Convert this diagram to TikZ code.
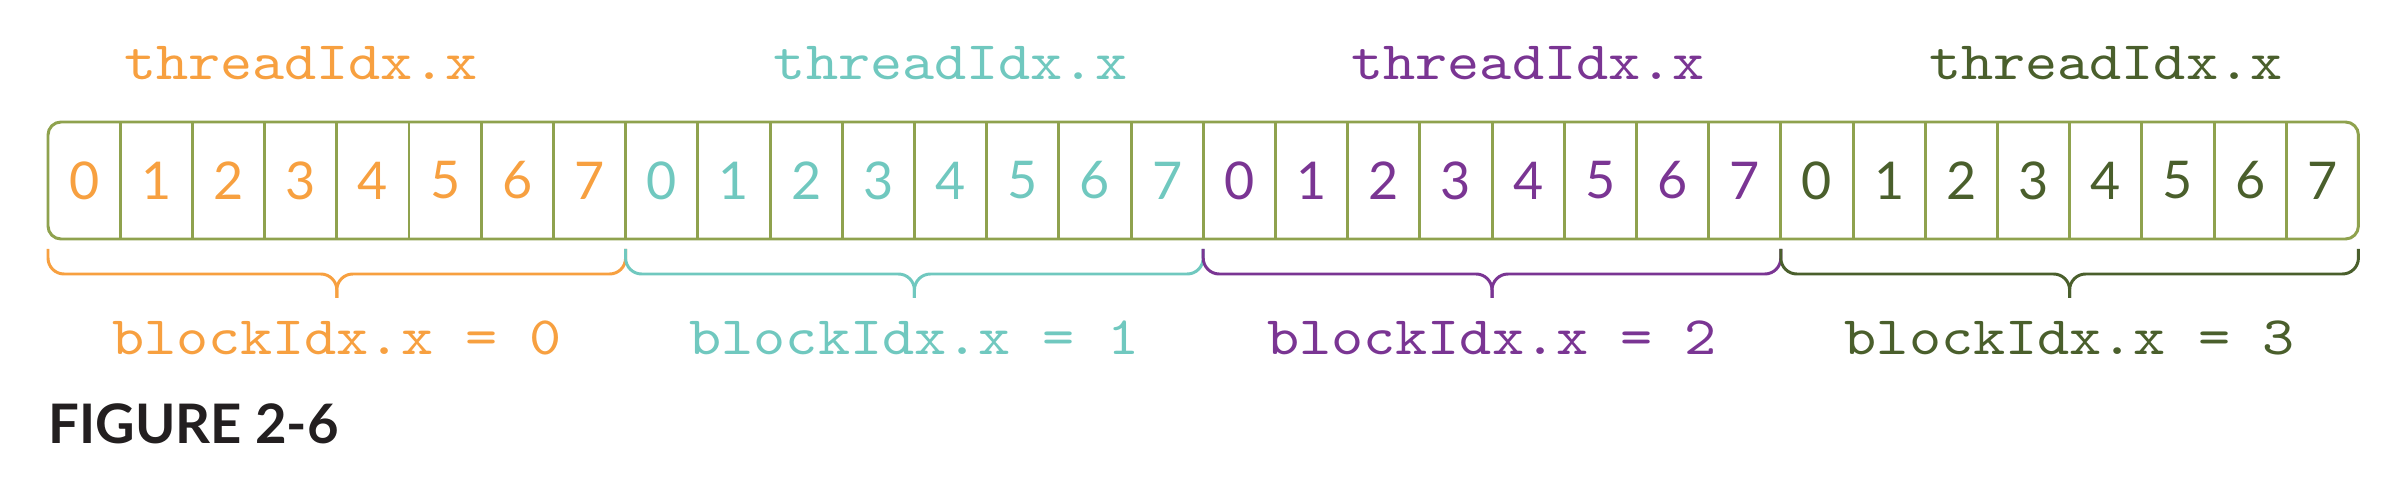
\documentclass[tikz,border=0pt]{standalone}
\usepackage{fontspec}
\newfontfamily\codefont{lmmono10-regular.otf}[FakeStretch=1.13]
\newfontfamily\digitfont{Lato}
\newfontfamily\figfont{Lato}
\definecolor{blockzero}{HTML}{F7A040}
\definecolor{blockone}{HTML}{70C8BF}
\definecolor{blocktwo}{HTML}{7A3593}
\definecolor{blockthree}{HTML}{4A5F2C}
\definecolor{framegreen}{HTML}{8FA24E}
\definecolor{figblack}{HTML}{231F20}

\begin{document}
\begin{tikzpicture}
[celldecorate/.style={minimum width=0.722cm,minimum height=1.17cm,inner sep=0pt,outer sep=0pt,%
    font=\digitfont\fontsize{14.8}{16}\selectfont},%
  frameline/.style={draw=framegreen,line width=0.85pt,rounded corners=0.13cm},
  cellline/.style={-,line width=0.85pt,color=framegreen},
  braceline/.style={-,line width=0.85pt,rounded corners=0.16cm},
  codelabel/.style={anchor=base,inner sep=0pt,font=\codefont\fontsize{15.4}{18}\selectfont}]
\useasboundingbox (0,0) rectangle (23.96,4.82);
% cells of the four blocks
% block 0
\node (c0) at (0.841,3.015) [celldecorate,color=blockzero] {0};
\node (c1) at (1.563,3.015) [celldecorate,color=blockzero] {1};
\node (c2) at (2.285,3.015) [celldecorate,color=blockzero] {2};
\node (c3) at (3.007,3.015) [celldecorate,color=blockzero] {3};
\node (c4) at (3.729,3.015) [celldecorate,color=blockzero] {4};
\node (c5) at (4.451,3.015) [celldecorate,color=blockzero] {5};
\node (c6) at (5.173,3.015) [celldecorate,color=blockzero] {6};
\node (c7) at (5.895,3.015) [celldecorate,color=blockzero] {7};
% block 1
\node (c8) at (6.617,3.015) [celldecorate,color=blockone] {0};
\node (c9) at (7.339,3.015) [celldecorate,color=blockone] {1};
\node (c10) at (8.061,3.015) [celldecorate,color=blockone] {2};
\node (c11) at (8.783,3.015) [celldecorate,color=blockone] {3};
\node (c12) at (9.505,3.015) [celldecorate,color=blockone] {4};
\node (c13) at (10.227,3.015) [celldecorate,color=blockone] {5};
\node (c14) at (10.949,3.015) [celldecorate,color=blockone] {6};
\node (c15) at (11.671,3.015) [celldecorate,color=blockone] {7};
% block 2
\node (c16) at (12.393,3.015) [celldecorate,color=blocktwo] {0};
\node (c17) at (13.115,3.015) [celldecorate,color=blocktwo] {1};
\node (c18) at (13.837,3.015) [celldecorate,color=blocktwo] {2};
\node (c19) at (14.559,3.015) [celldecorate,color=blocktwo] {3};
\node (c20) at (15.281,3.015) [celldecorate,color=blocktwo] {4};
\node (c21) at (16.003,3.015) [celldecorate,color=blocktwo] {5};
\node (c22) at (16.725,3.015) [celldecorate,color=blocktwo] {6};
\node (c23) at (17.447,3.015) [celldecorate,color=blocktwo] {7};
% block 3
\node (c24) at (18.169,3.015) [celldecorate,color=blockthree] {0};
\node (c25) at (18.891,3.015) [celldecorate,color=blockthree] {1};
\node (c26) at (19.613,3.015) [celldecorate,color=blockthree] {2};
\node (c27) at (20.335,3.015) [celldecorate,color=blockthree] {3};
\node (c28) at (21.057,3.015) [celldecorate,color=blockthree] {4};
\node (c29) at (21.779,3.015) [celldecorate,color=blockthree] {5};
\node (c30) at (22.501,3.015) [celldecorate,color=blockthree] {6};
\node (c31) at (23.223,3.015) [celldecorate,color=blockthree] {7};
% outer frame
\draw[frameline] (c0.north west) rectangle (c31.south east);
% cell walls
\path
(c0.north east) edge[cellline] (c0.south east)
(c1.north east) edge[cellline] (c1.south east)
(c2.north east) edge[cellline] (c2.south east)
(c3.north east) edge[cellline] (c3.south east)
(c4.north east) edge[cellline] (c4.south east)
(c5.north east) edge[cellline] (c5.south east)
(c6.north east) edge[cellline] (c6.south east)
(c7.north east) edge[cellline] (c7.south east)
(c8.north east) edge[cellline] (c8.south east)
(c9.north east) edge[cellline] (c9.south east)
(c10.north east) edge[cellline] (c10.south east)
(c11.north east) edge[cellline] (c11.south east)
(c12.north east) edge[cellline] (c12.south east)
(c13.north east) edge[cellline] (c13.south east)
(c14.north east) edge[cellline] (c14.south east)
(c15.north east) edge[cellline] (c15.south east)
(c16.north east) edge[cellline] (c16.south east)
(c17.north east) edge[cellline] (c17.south east)
(c18.north east) edge[cellline] (c18.south east)
(c19.north east) edge[cellline] (c19.south east)
(c20.north east) edge[cellline] (c20.south east)
(c21.north east) edge[cellline] (c21.south east)
(c22.north east) edge[cellline] (c22.south east)
(c23.north east) edge[cellline] (c23.south east)
(c24.north east) edge[cellline] (c24.south east)
(c25.north east) edge[cellline] (c25.south east)
(c26.north east) edge[cellline] (c26.south east)
(c27.north east) edge[cellline] (c27.south east)
(c28.north east) edge[cellline] (c28.south east)
(c29.north east) edge[cellline] (c29.south east)
(c30.north east) edge[cellline] (c30.south east);
% threadIdx labels above
\node (thread0) at (c3 |- 0,4.02) [codelabel,color=blockzero] {threadIdx.x};
\node (thread1) at (c12 |- 0,4.02) [codelabel,color=blockone] {threadIdx.x};
\node (thread2) at (c20 |- 0,4.02) [codelabel,color=blocktwo] {threadIdx.x};
\node (thread3) at (c28 |- 0,4.02) [codelabel,color=blockthree] {threadIdx.x};
% braces below, two halves each
\draw[braceline,color=blockzero] ([yshift=-1mm]c0.south west) |- ([yshift=-3.5mm]c3.south east) -- ([yshift=-5.9mm]c3.south east);
\draw[braceline,color=blockzero] ([yshift=-1mm]c7.south east) |- ([yshift=-3.5mm]c3.south east) -- ([yshift=-5.9mm]c3.south east);
\draw[braceline,color=blockone] ([yshift=-1mm]c8.south west) |- ([yshift=-3.5mm]c11.south east) -- ([yshift=-5.9mm]c11.south east);
\draw[braceline,color=blockone] ([yshift=-1mm]c15.south east) |- ([yshift=-3.5mm]c11.south east) -- ([yshift=-5.9mm]c11.south east);
\draw[braceline,color=blocktwo] ([yshift=-1mm]c16.south west) |- ([yshift=-3.5mm]c19.south east) -- ([yshift=-5.9mm]c19.south east);
\draw[braceline,color=blocktwo] ([yshift=-1mm]c23.south east) |- ([yshift=-3.5mm]c19.south east) -- ([yshift=-5.9mm]c19.south east);
\draw[braceline,color=blockthree] ([yshift=-1mm]c24.south west) |- ([yshift=-3.5mm]c27.south east) -- ([yshift=-5.9mm]c27.south east);
\draw[braceline,color=blockthree] ([yshift=-1mm]c31.south east) |- ([yshift=-3.5mm]c27.south east) -- ([yshift=-5.9mm]c27.south east);
% blockIdx labels below
\node (block0) at (c3.east |- 0,1.27) [codelabel,color=blockzero] {blockIdx.x = 0};
\node (block1) at (c11.east |- 0,1.27) [codelabel,color=blockone] {blockIdx.x = 1};
\node (block2) at (c19.east |- 0,1.27) [codelabel,color=blocktwo] {blockIdx.x = 2};
\node (block3) at (c27.east |- 0,1.27) [codelabel,color=blockthree] {blockIdx.x = 3};
% caption
\node (caption) at (c0.west |- 0,0.39) [anchor=base west,inner sep=0pt,color=figblack,%
  font=\figfont\bfseries\fontsize{15.5}{18}\selectfont] {FIGURE 2-6};
\end{tikzpicture}
\end{document}
